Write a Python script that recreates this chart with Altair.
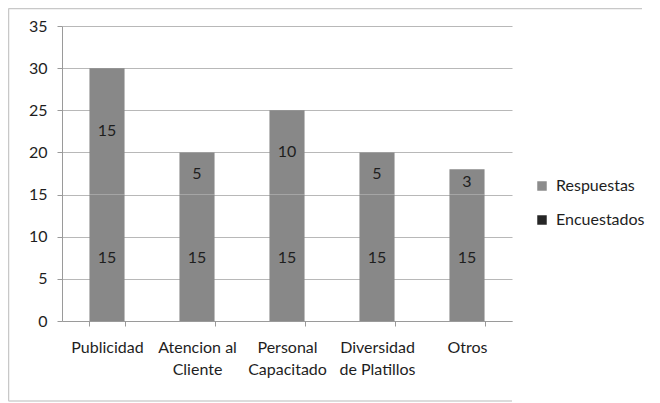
import altair as alt
import pandas as pd

categories = ["Publicidad", "Atencion al Cliente", "Personal Capacitado", "Diversidad de Platillos", "Otros"]
label_lines = [["Publicidad"], ["Atencion al", "Cliente"], ["Personal", "Capacitado"], ["Diversidad", "de Platillos"], ["Otros"]]
encuestados = [15, 15, 15, 15, 15]
respuestas = [15, 5, 10, 5, 3]
series = ["Respuestas", "Encuestados"]
y_ticks = [0, 5, 10, 15, 20, 25, 30, 35]

rows = []
for c, e, r in zip(categories, encuestados, respuestas):
    rows.append({"cat": c, "serie": "Encuestados", "value": e, "ord": 0})
    rows.append({"cat": c, "serie": "Respuestas", "value": r, "ord": 1})
df = pd.DataFrame(rows)

expr_parts = []
for c, lines in zip(categories, label_lines):
    arr = "[" + ",".join("'" + l + "'" for l in lines) + "]"
    expr_parts.append(f"datum.label == '{c}' ? {arr} : ")
label_expr = "".join(expr_parts) + "datum.label"

FONT = "Lato"
TXT = "#1e1e1e"
BAR = "#888888"
FS = 16

xenc = alt.X("cat:N", sort=categories, title=None,
             scale=alt.Scale(paddingInner=0.61, paddingOuter=0.305),
             axis=alt.Axis(labelAngle=0, labelExpr=label_expr, tickBand="extent",
                           labelFontSize=FS, labelFont=FONT, labelColor=TXT,
                           labelPadding=13, labelLineHeight=22, labelBaseline="top",
                           domainColor="#9a9a9a", tickColor="#9a9a9a", tickSize=5,
                           grid=False))
yscale = alt.Scale(domain=[0, 35], nice=False)

base = alt.Chart(df).transform_stack(
    stack="value", groupby=["cat"], as_=["y0", "y1"], sort=[alt.SortField("ord")]
).transform_calculate(mid="(datum.y0 + datum.y1) / 2")

legend_layer = base.mark_square(size=10, opacity=1).encode(
    x=xenc,
    y=alt.Y("mid:Q", scale=yscale),
    color=alt.Color("serie:N", title=None,
                    scale=alt.Scale(domain=series, range=["#8c8c8c", "#262626"]),
                    legend=alt.Legend(orient="none", legendX=472, legendY=152,
                                      symbolType="square", symbolSize=90,
                                      symbolStrokeWidth=0,
                                      labelFont=FONT, labelFontSize=FS, labelColor=TXT,
                                      rowPadding=18, labelOffset=6)),
)

bars = base.mark_bar(color=BAR).encode(
    x=xenc,
    y=alt.Y("y0:Q", scale=yscale, title=None,
            axis=alt.Axis(values=y_ticks, labelFontSize=FS, labelFont=FONT, labelColor=TXT,
                          labelPadding=10, domainColor="#9a9a9a", tickColor="#9a9a9a",
                          tickSize=5, gridColor="#b8b8b8", gridWidth=1.2)),
    y2="y1:Q",
)

texts = base.mark_text(font=FONT, fontSize=FS, color=TXT).encode(
    x=xenc,
    y=alt.Y("mid:Q", scale=yscale),
    text="value:Q",
)

frame = pd.DataFrame({"a": [0]})
border_top = alt.Chart(frame).mark_rule(color="#c8c8c8", strokeWidth=1.5).encode(
    x=alt.value(-53.5), x2=alt.value(580), y=alt.value(-17.5), y2=alt.value(-17.5)
)
border_left = alt.Chart(frame).mark_rule(color="#c8c8c8", strokeWidth=1.5).encode(
    x=alt.value(-53.5), x2=alt.value(-53.5), y=alt.value(-17.5), y2=alt.value(375)
)
border_bottom = alt.Chart(frame).mark_rule(color="#d0d0d0", strokeWidth=1.5).encode(
    x=alt.value(-53.5), x2=alt.value(450), y=alt.value(375), y2=alt.value(375)
)

chart = alt.layer(legend_layer, bars, texts, border_top, border_left, border_bottom).properties(
    width=450, height=295,
    autosize=alt.AutoSizeParams(type="none"),
    padding={"left": 54, "top": 18, "right": 140, "bottom": 82},
    view=alt.ViewBackground(stroke="transparent", strokeWidth=0),
).configure(background="white")

chart.save("out.html", embed_options={"renderer": "svg", "actions": False})
